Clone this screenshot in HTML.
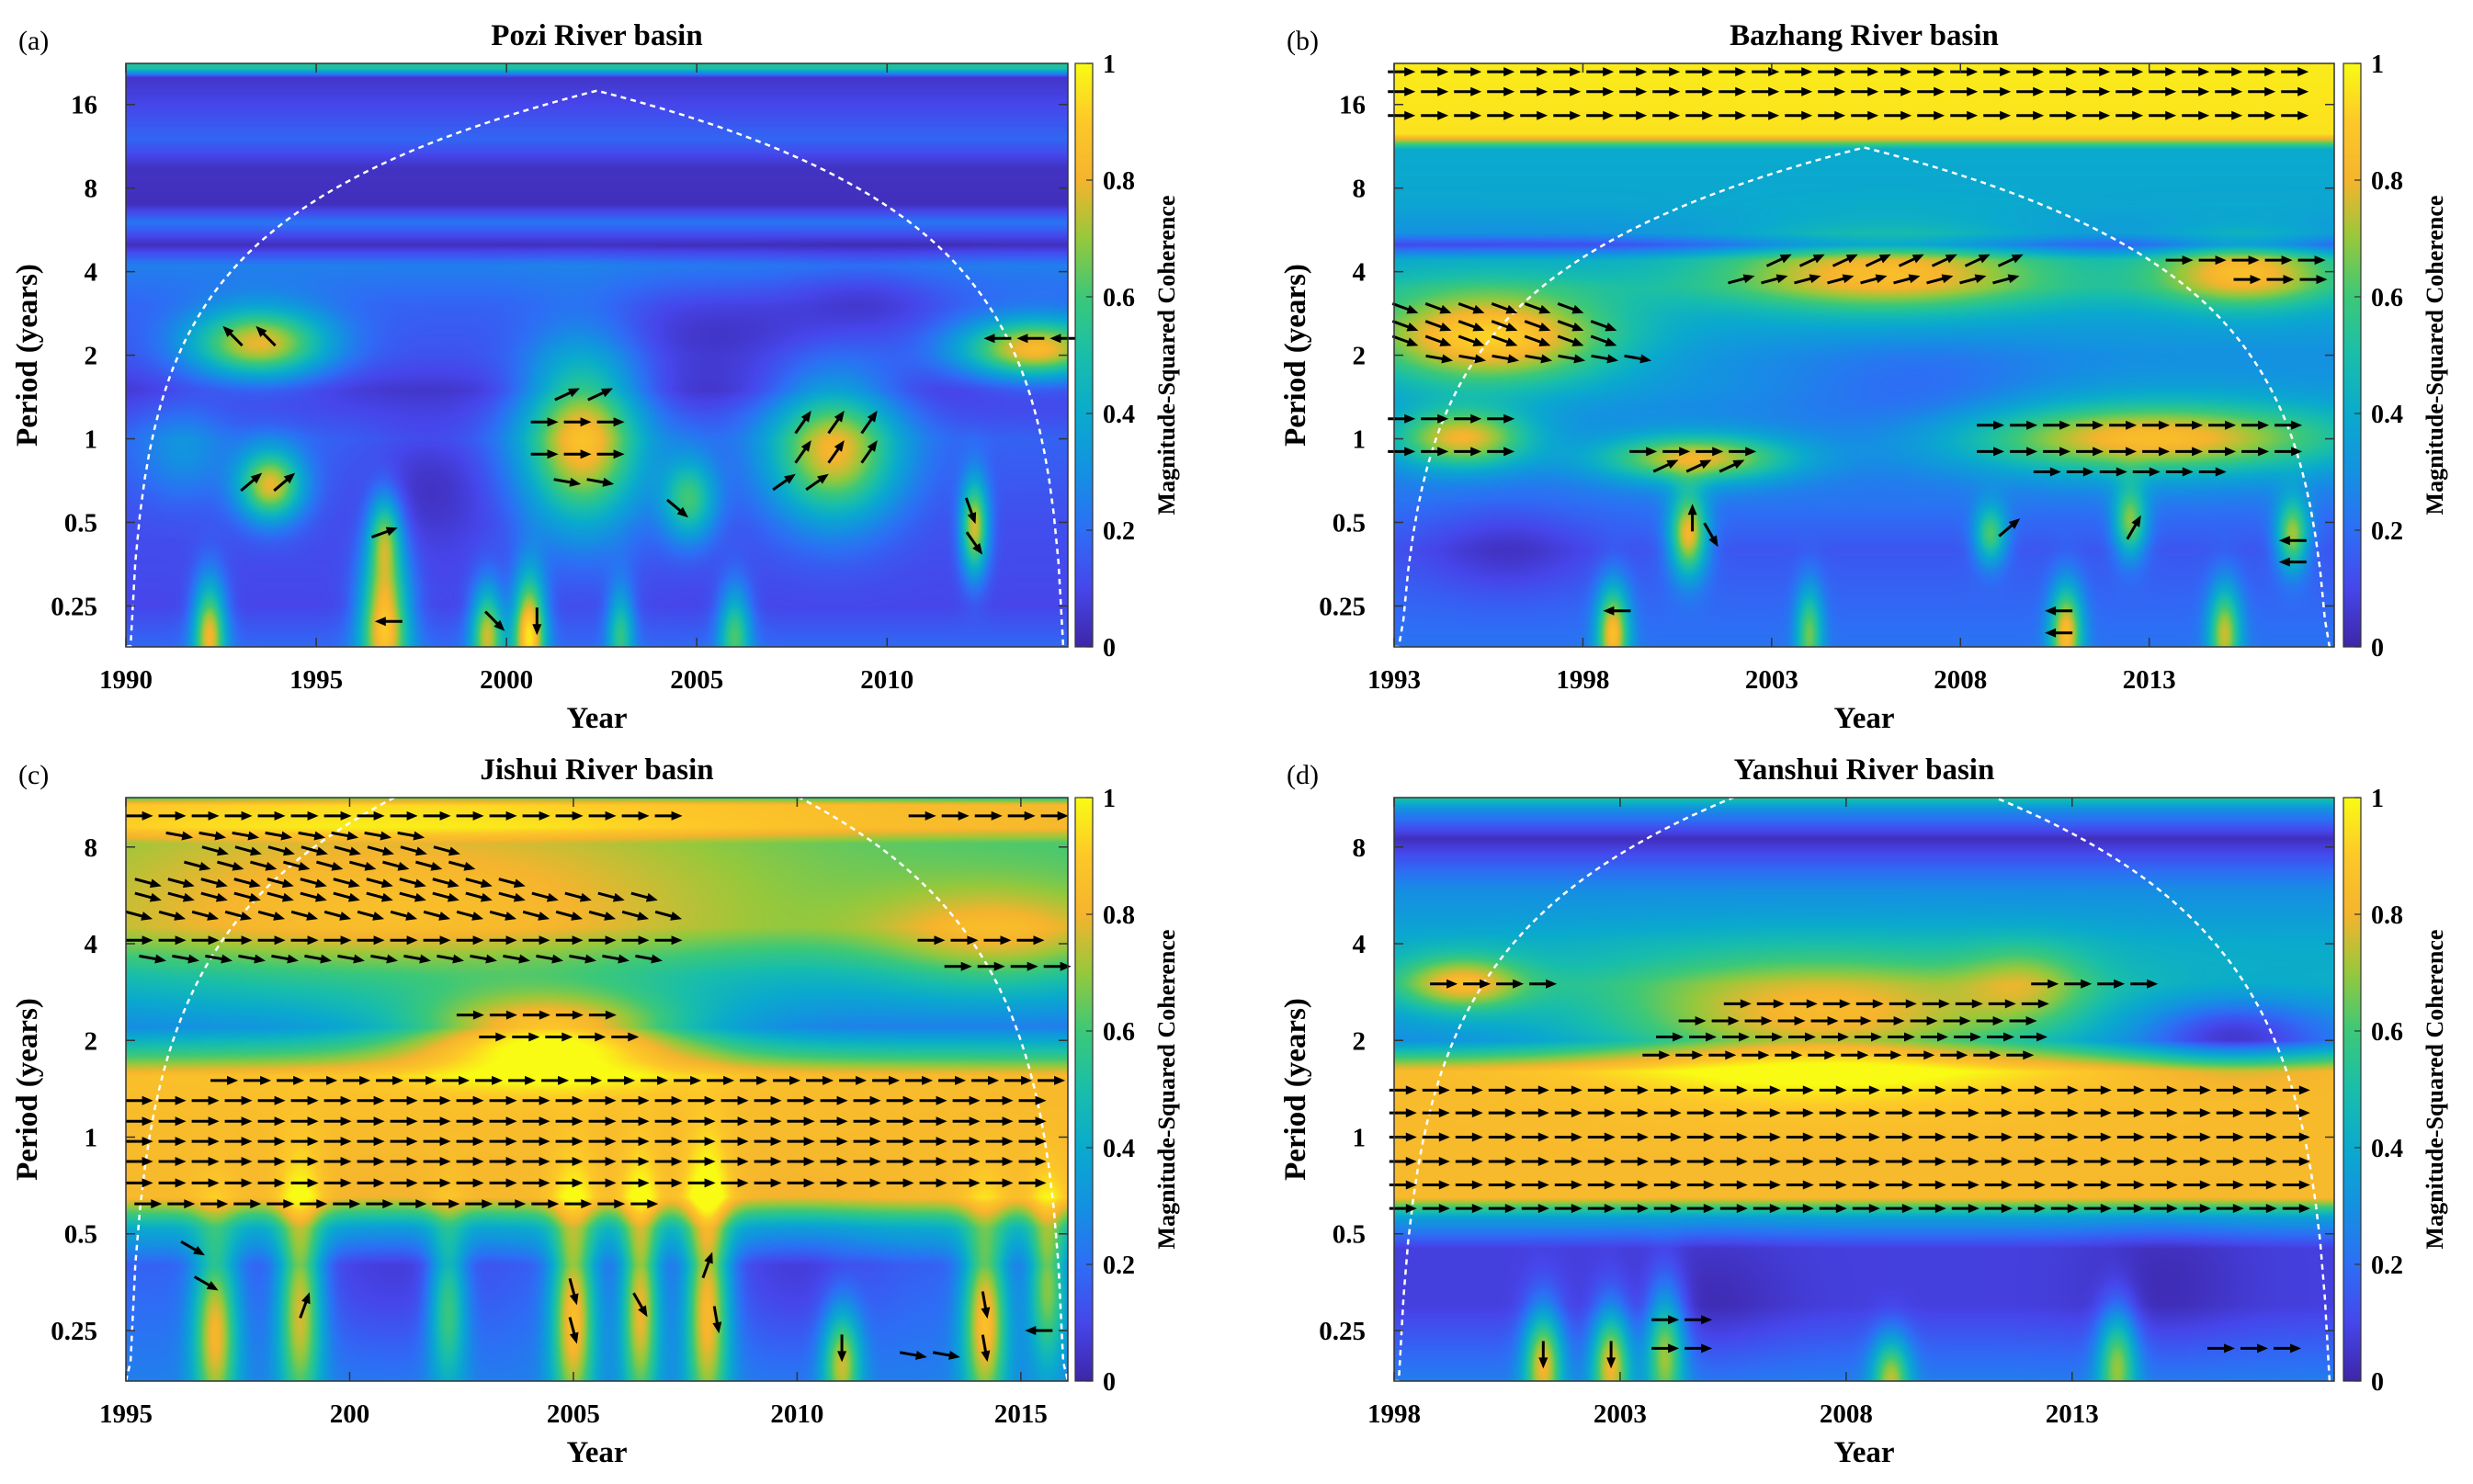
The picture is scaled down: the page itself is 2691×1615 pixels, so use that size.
<!DOCTYPE html>
<html><head><meta charset="utf-8">
<style>
html,body{margin:0;padding:0;background:#fff;}
#wrap{position:relative;width:2691px;height:1615px;overflow:hidden;font-family:"Liberation Serif",serif;}
canvas{position:absolute;}
svg{position:absolute;left:0;top:0;}
</style></head>
<body>
<div id="wrap">
<canvas id="cv-a"></canvas>
<canvas id="cv-b"></canvas>
<canvas id="cv-c"></canvas>
<canvas id="cv-d"></canvas>
<svg id="ov" width="2691" height="1615" xmlns="http://www.w3.org/2000/svg">
<defs>
<linearGradient id="parula" x1="0" y1="1" x2="0" y2="0">
<stop offset="0" stop-color="rgb(62,38,168)"/><stop offset="0.1" stop-color="rgb(70,70,235)"/>
<stop offset="0.2" stop-color="rgb(45,110,245)"/><stop offset="0.3" stop-color="rgb(20,145,225)"/>
<stop offset="0.4" stop-color="rgb(10,170,205)"/><stop offset="0.5" stop-color="rgb(25,190,170)"/>
<stop offset="0.6" stop-color="rgb(60,200,120)"/><stop offset="0.7" stop-color="rgb(150,200,60)"/>
<stop offset="0.8" stop-color="rgb(245,180,45)"/><stop offset="0.9" stop-color="rgb(253,200,40)"/>
<stop offset="1" stop-color="rgb(249,251,20)"/>
</linearGradient>
</defs>
</svg>
</div>
<script>
// ---------- data ----------
const aTitle="Pozi River basin", bTitle="Bazhang River basin", cTitle="Jishui River basin", dTitle="Yanshui River basin";
const aXTicks=[1990,1995,2000,2005,2010];
const aXLabels=["1990","1995","2000","2005","2010"];
const bXTicks=[1993,1998,2003,2008,2013];
const bXLabels=["1993","1998","2003","2008","2013"];
const cXTicks=[1995,2000,2005,2010,2015];
const cXLabels=["1995","200","2005","2010","2015"];
const dXTicks=[1998,2003,2008,2013];
const dXLabels=["1998","2003","2008","2013"];
const abYTicks=[16,8,4,2,1,0.5,0.25];
const abYLabels=["16","8","4","2","1","0.5","0.25"];
const cdYTicks=[8,4,2,1,0.5,0.25];
const cdYLabels=["8","4","2","1","0.5","0.25"];
const cbTicks=[0,0.2,0.4,0.6,0.8,1];
const cbLabels=["0","0.2","0.4","0.6","0.8","1"];

// base coherence profile by period [period, value]
const aBase=[[23,0.55],[21.5,0.5],[20,0.05],[16,0.1],[12,0.18],[9.5,0.04],[7,0.03],[6,0.22],[5,0.03],[4.2,0.25],[3,0.17],[2,0.13],[1.5,0.06],[1,0.17],[0.5,0.12],[0.25,0.1],[0.17,0.2]];
const bBase=[[23,0.97],[12.5,0.95],[11,0.4],[7,0.38],[5.5,0.3],[5,0.1],[4.4,0.38],[3.5,0.42],[2.8,0.35],[2,0.3],[1.5,0.3],[1,0.25],[0.6,0.22],[0.4,0.14],[0.17,0.22]];
const cBase=[[11.5,0.5],[10.8,0.82],[9.2,0.82],[8.2,0.6],[6,0.6],[4.5,0.6],[3.2,0.38],[2.2,0.22],[1.75,0.6],[1.55,0.83],[0.65,0.83],[0.52,0.4],[0.4,0.17],[0.17,0.25]];
const dBase=[[11.5,0.55],[10.5,0.3],[8.5,0.03],[6,0.28],[4,0.4],[3,0.42],[2.4,0.33],[2,0.28],[1.6,0.83],[0.65,0.83],[0.56,0.35],[0.45,0.08],[0.3,0.08],[0.17,0.25]];

// blobs [year, period, sigmaYears, sigmaOctaves, amplitude]
const aBlobs=[[1993.5,2.2,1.3,0.3,0.65],[1993.8,0.68,0.6,0.3,0.65],[2002,1.0,1.1,0.75,0.7],[2008.6,0.9,1.2,0.6,0.65],[2012.3,0.48,0.25,0.4,0.65],[2013.9,2.1,1.4,0.25,0.7],[1992.2,0.2,0.3,0.45,0.65],[1996.8,0.22,0.45,0.6,0.75],[2000.6,0.2,0.3,0.5,0.8],[1999.5,0.2,0.3,0.4,0.6],[1996.8,0.45,0.3,0.35,0.45],[2004.8,0.6,0.5,0.35,0.45],[1998,0.7,1.2,0.5,-0.1],[2005.5,2.5,2.5,0.4,-0.1],[2009.5,3.2,1.5,0.3,-0.1],[2006,0.2,0.3,0.4,0.45],[2003,0.2,0.25,0.4,0.4],[1991.5,0.9,0.8,0.4,0.15]];
const bBlobs=[[2006,4,3.2,0.35,0.45],[2015.5,4,1.7,0.3,0.45],[1995.5,2.3,2.4,0.4,0.6],[1994.8,1.0,1.3,0.25,0.55],[2001,0.85,1.8,0.2,0.55],[2013,1.0,3.8,0.3,0.6],[2000.8,0.45,0.35,0.35,0.65],[2010.8,0.2,0.3,0.4,0.65],[1998.8,0.2,0.3,0.4,0.65],[2016.8,0.45,0.3,0.3,0.55],[2012.5,0.5,0.3,0.3,0.5],[2008.8,0.45,0.3,0.25,0.45],[1996,0.4,1.5,0.4,-0.1],[2007,1.4,2.5,0.5,-0.12],[2015,0.2,0.3,0.4,0.55],[2004,0.2,0.25,0.4,0.45]];
const cBlobs=[[2001,5,6,0.9,0.25],[2004.5,2.1,2.2,0.3,0.58],[2014.5,4,2,0.4,0.25],[1997,0.25,0.35,0.7,0.6],[1998.9,0.3,0.35,0.8,0.6],[2002.2,0.3,0.3,0.6,0.45],[2005,0.28,0.35,0.8,0.65],[2006.5,0.3,0.3,0.8,0.6],[2008,0.3,0.35,0.9,0.65],[2011,0.2,0.3,0.4,0.55],[2014.2,0.27,0.35,0.7,0.65],[2015.6,0.35,0.3,0.6,0.5],[2001,0.35,1.5,0.6,-0.1],[2010,0.35,1.2,0.6,-0.1]];
const dBlobs=[[2007.5,2.3,3.6,0.45,0.5],[1999.5,3,1,0.2,0.4],[2016.5,2.1,1.4,0.25,-0.25],[2012,3,1,0.3,0.2],[2001.3,0.2,0.3,0.4,0.6],[2002.8,0.2,0.3,0.4,0.6],[2004,0.22,0.3,0.45,0.55],[2014,0.2,0.3,0.4,0.5],[2009,0.18,0.3,0.3,0.5],[2005,0.3,1.2,0.5,-0.06],[2015,0.35,1.2,0.5,-0.06]];

// arrow rows [yearStart, yearEnd, period, angleDeg]
const aArrows=[[1992.8,1994.2,2.35,-135],[1993.3,1994.3,0.7,-40],[2001.6,2003,1.45,-25],[2001,2003.2,1.15,0],[2001,2003.2,0.88,0],[2001.6,2003.2,0.7,10],[2007.8,2009.6,1.15,-55],[2007.8,2009.6,0.9,-55],[2007.3,2009,0.7,-35],[2012.9,2014.7,2.3,180],[2012.2,2012.3,0.55,70],[2012.3,2012.4,0.42,55],[2004.5,2004.6,0.56,40],[1996.8,1996.9,0.46,-20],[1996.9,1997.6,0.22,180],[1999.7,1999.8,0.22,45],[2000.8,2000.9,0.22,90]];
const bArrows=[[1993.2,2017.6,21,0],[1993.2,2017.6,17.8,0],[1993.2,2017.6,14.6,0],[2003.2,2010.2,4.4,-25],[2002.2,2009.6,3.75,-15],[2013.8,2017.4,4.4,0],[2015.6,2017.4,3.75,0],[1993.3,1998,2.95,20],[1993.3,1998.6,2.55,20],[1993.3,1999.1,2.25,20],[1994.2,1999.6,1.95,10],[1993.2,1996.2,1.18,0],[1993.2,1996.6,0.9,0],[1999.6,2003,0.9,0],[2000.2,2002,0.8,-25],[2008.8,2017.4,1.12,0],[2008.8,2017.4,0.9,0],[2010.3,2014.8,0.76,0],[2000.9,2001,0.52,-90],[2001.4,2001.5,0.45,60],[2009.3,2009.4,0.48,-40],[2012.6,2012.7,0.48,-60],[2016.8,2017.4,0.43,180],[2016.8,2017.4,0.36,180],[1998.9,1999.4,0.24,180],[2010.6,2011.1,0.24,180],[2010.6,2011.1,0.2,180]];
const cArrows=[[1995.3,2007.6,10,0],[2012.8,2015.8,10,0],[1996.2,2002,8.7,10],[1997,2002.6,7.8,15],[1996.6,2003.2,7,15],[1995.5,2004,6.2,15],[1995.5,2006.6,5.6,15],[1995.3,2007.6,4.9,15],[1995.3,2007.2,4.1,0],[1995.6,2007,3.6,10],[2013,2015.9,4.1,0],[2013.6,2015.9,3.4,0],[2002.7,2006.2,2.4,0],[2003.2,2006.6,2.05,0],[1997.2,2015.8,1.5,0],[1995.3,2015.8,1.3,0],[1995.3,2015.8,1.12,0],[1995.3,2015.8,0.97,0],[1995.3,2015.8,0.84,0],[1995.3,2015.8,0.72,0],[1995.5,2007,0.62,0],[1996.5,1997.2,0.45,30],[1996.8,1997.4,0.35,30],[1999,1999.1,0.3,-70],[2005,2005.1,0.33,75],[2005,2005.1,0.25,75],[2006.5,2006.6,0.3,60],[2008,2008.1,0.4,-70],[2008.2,2008.3,0.27,80],[2011,2011.1,0.22,90],[2014.2,2014.3,0.3,80],[2014.2,2014.3,0.22,80],[2015.4,2015.9,0.25,180],[2012.6,2013.4,0.21,10]];
const dArrows=[[1999.1,2001.6,3,0],[2012.4,2014.6,3,0],[2005.6,2012.5,2.6,0],[2004.6,2012.6,2.3,0],[2004.1,2012.8,2.05,0],[2003.8,2012.4,1.8,0],[1998.2,2018.6,1.4,0],[1998.2,2018.6,1.19,0],[1998.2,2018.6,1,0],[1998.2,2018.6,0.84,0],[1998.2,2018.6,0.71,0],[1998.2,2018.6,0.6,0],[2001.3,2001.4,0.21,90],[2002.8,2002.9,0.21,90],[2004,2004.8,0.27,0],[2004,2004.8,0.22,0],[2016.3,2017.8,0.22,0]];

// ---------- geometry ----------
const panels={
 a:{x:137,y:69,w:1025,h:635,t0:1990,t1:2014.75,pMin:0.178,pMax:22.5,base:aBase,blobs:aBlobs,arrows:aArrows,xt:aXTicks,xl:aXLabels,yt:abYTicks,yl:abYLabels,title:aTitle,tag:"(a)",coi:1.45,cbx:1170},
 b:{x:1517,y:69,w:1023,h:635,t0:1993,t1:2017.9,pMin:0.178,pMax:22.5,base:bBase,blobs:bBlobs,arrows:bArrows,xt:bXTicks,xl:bXLabels,yt:abYTicks,yl:abYLabels,title:bTitle,tag:"(b)",coi:0.9,cbx:2550},
 c:{x:137,y:868,w:1025,h:635,t0:1995,t1:2016.05,pMin:0.174,pMax:11.4,base:cBase,blobs:cBlobs,arrows:cArrows,xt:cXTicks,xl:cXLabels,yt:cdYTicks,yl:cdYLabels,title:cTitle,tag:"(c)",coi:1.9,cbx:1170},
 d:{x:1517,y:868,w:1023,h:635,t0:1998,t1:2018.8,pMin:0.174,pMax:11.4,base:dBase,blobs:dBlobs,arrows:dArrows,xt:dXTicks,xl:dXLabels,yt:cdYTicks,yl:cdYLabels,title:dTitle,tag:"(d)",coi:1.52,cbx:2550}
};
const stops=[[0,62,38,168],[0.1,70,70,235],[0.2,45,110,245],[0.3,20,145,225],[0.4,10,170,205],[0.5,25,190,170],[0.6,60,200,120],[0.7,150,200,60],[0.8,245,180,45],[0.9,253,200,40],[1,249,251,20]];
function cmap(v){v=Math.max(0,Math.min(1,v));for(let i=1;i<stops.length;i++){if(v<=stops[i][0]){const a=stops[i-1],b=stops[i],f=(v-a[0])/(b[0]-a[0]);return [a[1]+f*(b[1]-a[1]),a[2]+f*(b[2]-a[2]),a[3]+f*(b[3]-a[3])];}}return stops[stops.length-1].slice(1);}
const NS="http://www.w3.org/2000/svg";
const ov=document.getElementById('ov');
function mk(tag,attrs,parent){const e=document.createElementNS(NS,tag);for(const k in attrs)e.setAttribute(k,attrs[k]);(parent||ov).appendChild(e);return e;}

for(const key in panels){
 const P=panels[key];
 const L2=Math.log2, lmax=L2(P.pMax), lmin=L2(P.pMin);
 const xs=t=>P.x+(t-P.t0)/(P.t1-P.t0)*P.w;
 const ys=p=>P.y+(lmax-L2(p))/(lmax-lmin)*P.h;
 const cv=document.getElementById('cv-'+key);
 cv.width=P.w;cv.height=P.h;cv.style.left=P.x+'px';cv.style.top=P.y+'px';
 const ctx=cv.getContext('2d');const img=ctx.createImageData(P.w,P.h);
 const base=P.base.map(r=>[L2(r[0]),r[1]]);
 for(let j=0;j<P.h;j++){
  const lp=lmax-(j+0.5)/P.h*(lmax-lmin);
  let bv=base[base.length-1][1];
  for(let k=1;k<base.length;k++){if(lp>=base[k][0]){const f=(lp-base[k][0])/(base[k-1][0]-base[k][0]);bv=base[k][1]+f*(base[k-1][1]-base[k][1]);break;}}
  if(lp>base[0][0])bv=base[0][1];
  const rowB=P.blobs.map(b=>[b[0],b[2],b[4]*Math.exp(-Math.pow(lp-L2(b[1]),2)/(2*b[3]*b[3]))]);
  for(let i=0;i<P.w;i++){
   const t=P.t0+(i+0.5)/P.w*(P.t1-P.t0);let v=bv;
   for(const r of rowB){if(Math.abs(r[2])>0.005){const d=t-r[0];v+=r[2]*Math.exp(-d*d/(2*r[1]*r[1]));}}
   const c=cmap(v);const o=(j*P.w+i)*4;img.data[o]=c[0];img.data[o+1]=c[1];img.data[o+2]=c[2];img.data[o+3]=255;
  }
 }
 ctx.putImageData(img,0,0);
 const g=mk('g',{});
 
 
 let d='';const N=200;
 for(let k=0;k<=N;k++){const t=P.t0+k/N*(P.t1-P.t0);let p=P.coi*Math.min(t-P.t0,P.t1-t);p=Math.max(p,P.pMin);if(p>P.pMax*1.3)p=P.pMax*1.3;d+=(k?'L':'M')+xs(t).toFixed(1)+','+ys(p).toFixed(1);}
 const clip=mk('clipPath',{id:'clip-'+key},g);mk('rect',{x:P.x,y:P.y,width:P.w,height:P.h},clip);
 const coi=mk('path',{d:d,fill:'none',stroke:'#fff','stroke-width':2.5,'stroke-dasharray':'6 5','clip-path':'url(#clip-'+key+')'},g);
 
 
 const step=36*(P.t1-P.t0)/P.w;
 for(const r of P.arrows){
  for(let t=r[0];t<=r[1]+1e-6;t+=step){
   const cx=xs(t),cy=ys(r[2]);
   const ar=mk('g',{transform:`translate(${cx.toFixed(1)},${cy.toFixed(1)}) rotate(${r[3]})`},g);
   
   
   mk('line',{x1:-15,y1:0,x2:6,y2:0,stroke:'#000','stroke-width':3},ar);
   mk('polygon',{points:'15,0 3,-5 3,5',fill:'#000'},ar);
  }
 }
 const fr=mk('rect',{x:P.x,y:P.y,width:P.w,height:P.h,fill:'none',stroke:'#333','stroke-width':1.5},g);
 
 
 P.xt.forEach((t,i)=>{
  const x=xs(t);
  mk('line',{x1:x,y1:P.y+P.h,x2:x,y2:P.y+P.h-10,stroke:'#333','stroke-width':1.5},g);
  mk('line',{x1:x,y1:P.y,x2:x,y2:P.y+10,stroke:'#333','stroke-width':1.5},g);
  const tx=mk('text',{x:x,y:P.y+P.h+45,'text-anchor':'middle','font-size':29,'font-weight':'bold','font-family':'Liberation Serif, serif'},g);
  tx.textContent=P.xl[i];
  
  
 });
 P.yt.forEach((p,i)=>{
  const y=ys(p);
  mk('line',{x1:P.x,y1:y,x2:P.x+10,y2:y,stroke:'#333','stroke-width':1.5},g);
  mk('line',{x1:P.x+P.w,y1:y,x2:P.x+P.w-10,y2:y,stroke:'#333','stroke-width':1.5},g);
  const tx=mk('text',{x:P.x-31,y:y+10,'text-anchor':'end','font-size':29,'font-weight':'bold','font-family':'Liberation Serif, serif'},g);
  tx.textContent=P.yl[i];
  
  
 });
 const xt=mk('text',{x:P.x+P.w/2,y:P.y+P.h+88,'text-anchor':'middle','font-size':33,'font-weight':'bold','font-family':'Liberation Serif, serif'},g);
 xt.textContent='Year';
 
 
 const yt=mk('text',{x:0,y:0,transform:`translate(${P.x-97},${P.y+P.h/2}) rotate(-90)`,'text-anchor':'middle','font-size':33,'font-weight':'bold','font-family':'Liberation Serif, serif'},g);
 yt.textContent='Period (years)';
 
 
 const tt=mk('text',{x:P.x+P.w/2,y:P.y-20,'text-anchor':'middle','font-size':33,'font-weight':'bold','font-family':'Liberation Serif, serif'},g);
 tt.textContent=P.title;
 
 
 const tg=mk('text',{x:P.x-117,y:P.y-15,'font-size':30,'font-family':'Liberation Serif, serif'},g);
 tg.textContent=P.tag;
 
 
 const cb=mk('rect',{x:P.cbx,y:P.y,width:19,height:P.h,fill:'url(#parula)',stroke:'#333','stroke-width':1.2},g);
 
 
 cbTicks.forEach((v,i)=>{
  const y=P.y+P.h-v*P.h;
  mk('line',{x1:P.cbx+12,y1:y,x2:P.cbx+19,y2:y,stroke:'#333','stroke-width':1.2},g);
  const tx=mk('text',{x:P.cbx+30,y:y+10,'font-size':28,'font-weight':'bold','font-family':'Liberation Serif, serif'},g);
  tx.textContent=cbLabels[i];
  
  
 });
 const cl=mk('text',{x:0,y:0,transform:`translate(${P.cbx+108},${P.y+P.h/2}) rotate(-90)`,'text-anchor':'middle','font-size':26,'font-weight':'bold','font-family':'Liberation Serif, serif'},g);
 cl.textContent='Magnitude-Squared Coherence';
 
 
}
</script>
</body></html>
